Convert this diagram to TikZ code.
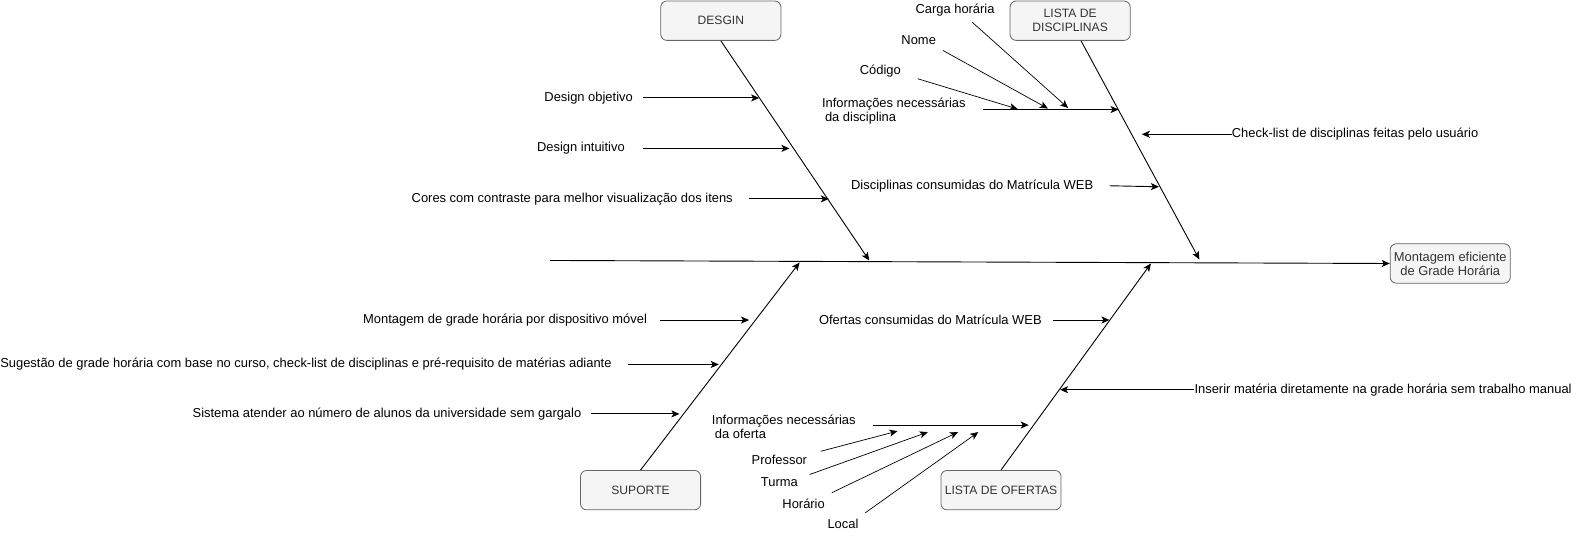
\documentclass[tikz,border=0pt]{standalone}
\usepackage{fontspec}
\setmainfont{Liberation Sans}
\usepackage{xcolor}
\usepackage{tikz}
\usetikzlibrary{arrows.meta,positioning,calc}
\definecolor{boxfill}{HTML}{F5F5F5}
\definecolor{boxline}{HTML}{666666}
\definecolor{boxtext}{HTML}{333333}
\tikzset{
  catbox/.style={draw=boxline, fill=boxfill, rounded corners=6pt, line width=0.8pt,
    minimum width=119pt, minimum height=39pt, align=center, text=boxtext,
    font=\fontsize{12}{14}\selectfont},
  lbl/.style={inner sep=0pt, font=\fontsize{12.8}{14}\selectfont},
  arr/.style={line width=0.9pt, -{Stealth[length=8pt,width=7pt,inset=2pt]}},
  subarr/.style={line width=0.7pt, -{Stealth[length=8pt,width=7pt,inset=2pt]}},
}

\begin{document}
\begin{tikzpicture}[x=1pt, y=-1pt]
    \useasboundingbox (0,0) rectangle (1568,530);

    % effect + spine
    \node[catbox, font=\fontsize{12.8}{14}\selectfont] (goal) at (1436.5,261) {Montagem eficiente\\de Grade Horária};
    \coordinate (tail) at (545,258);
    \draw[arr] (tail) -- (goal.west);

    % categories
    \node[catbox] (desgin) at (714,20.5) {DESGIN};
    \node[catbox] (ldisc) at (1060,20.5) {LISTA DE\\DISCIPLINAS};
    \node[catbox] (suporte) at (634.5,485.5) {SUPORTE};
    \node[catbox] (lofer) at (991.5,485.5) {LISTA DE OFERTAS};

    \coordinate (dend) at (861,258);
    \coordinate (lend) at (1188,257);
    \coordinate (send) at (792,260);
    \coordinate (oend) at (1140,261);
    \draw[arr] (desgin.south) -- (dend);
    \draw[arr] (ldisc) -- (lend);
    \draw[arr] (suporte.north) -- (send);
    \draw[arr] (lofer.north) -- (oend);

    % DESGIN
    \node[lbl, anchor=east] (dobj) at (627,97) {Design objetivo};
    \node[lbl, anchor=east] (dint) at (619,147) {Design intuitivo};
    \node[lbl, anchor=east] (dcor) at (726,197) {Cores com contraste para melhor visualização dos itens};
    \coordinate (d1) at (752,97);
    \coordinate (d2) at (782,147);
    \coordinate (d3) at (821,197);
    \draw[arr] ([xshift=10pt]dobj.east) -- (d1);
    \draw[arr] ([xshift=18pt]dint.east) -- (d2);
    \draw[arr] ([xshift=16pt]dcor.east) -- (d3);

    % LISTA DE DISCIPLINAS
    \node[lbl, anchor=west, align=left] (dinfo) at (814,110) {Informações necessárias\\\hspace*{3pt}da disciplina};
    \coordinate (l1) at (1108,108.5);
    \draw[arr] ([shift={(17,-1.5)}]dinfo.east) -- (l1);
    \node[lbl] (cod) at (872,70) {Código};
    \node[lbl] (nome) at (910,40) {Nome};
    \node[lbl] (carga) at (946,10) {Carga horária};
    \coordinate (k1) at (1008,108);
    \coordinate (k2) at (1038,107.5);
    \coordinate (k3) at (1058,107);
    \draw[subarr] ([shift={(37,8)}]cod.center) -- (k1);
    \draw[subarr] ([shift={(24,10)}]nome.center) -- (k2);
    \draw[subarr] ([shift={(17,12)}]carga.center) -- (k3);

    \node[lbl, anchor=west] (dchk) at (1220,133) {Check-list de disciplinas feitas pelo usuário};
    \coordinate (l2) at (1131,133);
    \draw[arr] (dchk.west) -- (l2);
    \node[lbl, anchor=east] (dweb) at (1083,184) {Disciplinas consumidas do Matrícula WEB};
    \coordinate (l3) at (1148,185);
    \draw[arr] ([xshift=16pt]dweb.east) -- (l3);

    % SUPORTE
    \node[lbl, anchor=east] (smov) at (641,317) {Montagem de grade horária por dispositivo móvel};
    \node[lbl, anchor=east] (ssug) at (606,361) {Sugestão de grade horária com base no curso, check-list de disciplinas e pré-requisito de matérias adiante};
    \node[lbl, anchor=east] (ssis) at (576,410) {Sistema atender ao número de alunos da universidade sem gargalo};
    \coordinate (s1) at (742,317);
    \coordinate (s2) at (712,361);
    \coordinate (s3) at (673,410);
    \draw[arr] ([xshift=13pt]smov.east) -- (s1);
    \draw[arr] ([xshift=16pt]ssug.east) -- (s2);
    \draw[arr] ([xshift=9pt]ssis.east) -- (s3);

    % LISTA DE OFERTAS
    \node[lbl, anchor=east] (oweb) at (1032,317) {Ofertas consumidas do Matrícula WEB};
    \coordinate (o1) at (1099,317);
    \draw[arr] ([xshift=11pt]oweb.east) -- (o1);
    \node[lbl, anchor=west] (oins) at (1183,386) {Inserir matéria diretamente na grade horária sem trabalho manual};
    \coordinate (o2) at (1050,386);
    \draw[arr] (oins.west) -- (o2);

    \node[lbl, anchor=west, align=left] (oinfo) at (705,423) {Informações necessárias\\\hspace*{3pt}da oferta};
    \coordinate (o3) at (1019,421);
    \draw[arr] ([shift={(17,-2)}]oinfo.east) -- (o3);
    \node[lbl] (prof) at (772,456) {Professor};
    \node[lbl] (turma) at (772,478) {Turma};
    \node[lbl] (hora) at (796,499) {Horário};
    \node[lbl] (local) at (835,519) {Local};
    \coordinate (q1) at (889,427);
    \coordinate (q2) at (919,428);
    \coordinate (q3) at (949,428);
    \coordinate (q4) at (969,428);
    \draw[subarr] ([shift={(41,-9)}]prof.center) -- (q1);
    \draw[subarr] ([shift={(30,-8)}]turma.center) -- (q2);
    \draw[subarr] ([shift={(28,-11)}]hora.center) -- (q3);
    \draw[subarr] ([shift={(22,-11)}]local.center) -- (q4);
\end{tikzpicture}
\end{document}
